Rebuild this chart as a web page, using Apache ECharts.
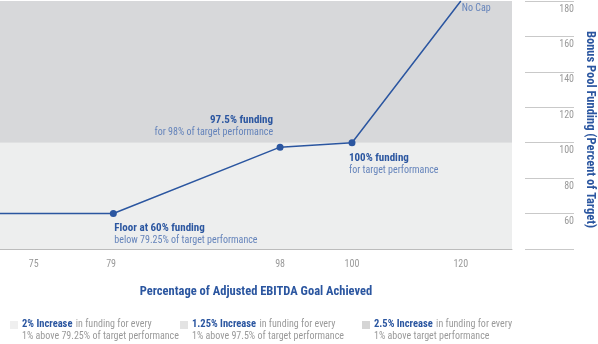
<!DOCTYPE html>
<html>
<head>
<meta charset="utf-8">
<script src="https://cdn.jsdelivr.net/npm/echarts@6/dist/echarts.min.js"></script>
<style>
  html, body { margin: 0; padding: 0; background: #ffffff; }
  #chart { width: 598px; height: 344px; }
</style>
</head>
<body>
<div id="chart"></div>
<script>
// Performance (x) ticks and funding (y) ticks
const performanceTicks = [75, 79, 98, 100, 120];
const fundingTicks = [40, 60, 80, 100, 120, 140, 160, 180];

// Funding curve: % of adjusted EBITDA goal achieved -> bonus pool funding %
const performance = [70, 79.25, 98, 100, 120];
const funding = [60, 60, 97.5, 100, 180];

// Shaded funding bands (lower band, upper band)
const bandEdges = [40, 100, 180];

// Callouts attached to the curve points
const noteHeads = ['', 'Floor at 60% funding', '97.5% funding', '100% funding', ''];
const noteBodies = ['', 'below 79.25% of target performance', 'for 98% of target performance', 'for target performance', 'No Cap'];

// Legend entries
const legendHeads = ['2% Increase', '1.25% Increase', '2.5% Increase'];
const legendTails = ['in funding for every', 'in funding for every', 'in funding for every'];
const legendSecond = ['1% above 79.25% of target performance', '1% above 97.5% of target performance', '1% above target performance'];

// ---- styling / layout ----
const FONT = "'Liberation Sans Narrow', 'Arial Narrow', 'Roboto Condensed', sans-serif";
const BLUE = '#2b56a0';
const SOFT_BLUE = '#6584bb';
const GREY_TEXT = '#9a9a9a';
const BAND_COLORS = ['#edeeee', '#d7d8da'];
const LEGEND_SWATCH = ['#efefef', '#e3e3e3', '#d5d5d5'];

// The performance axis is not drawn to scale: each labelled tick owns a slot
// along the axis (in percent of the plot width), values in between are
// interpolated between neighbouring ticks.
const tickSlots = [6.6, 21.7, 54.7, 68.75, 90.0];

function toSlot(v) {
  const t = performanceTicks, s = tickSlots, n = t.length;
  let i = 0;
  if (v <= t[0]) i = 0;
  else if (v >= t[n - 1]) i = n - 2;
  else { while (v > t[i + 1]) i++; }
  return s[i] + (v - t[i]) * (s[i + 1] - s[i]) / (t[i + 1] - t[i]);
}

const noteLayout = [
  null,
  { position: 'bottom', align: 'left', offset: [1, 0] },
  { position: 'top', align: 'right', offset: [-7, 0] },
  { position: 'bottom', align: 'left', offset: [-3, 1] },
  { position: 'right', align: 'left', offset: [-4, 7] }
];

const richStyles = (align) => ({
  b: { fontFamily: FONT, fontSize: 11, fontWeight: 'bold', color: BLUE, lineHeight: 12, align: align },
  r: { fontFamily: FONT, fontSize: 10, color: SOFT_BLUE, lineHeight: 12, align: align }
});

const curveData = performance.map((p, i) => {
  const lay = noteLayout[i];
  const endPoint = (i === 0 || i === performance.length - 1);
  const item = { value: [toSlot(p), funding[i]], symbolSize: endPoint ? 0 : 7 };
  if (lay) {
    const head = noteHeads[i] ? '{b|' + noteHeads[i] + '}\n' : '';
    item.label = {
      show: true,
      position: lay.position,
      align: lay.align,
      offset: lay.offset,
      distance: 5,
      formatter: head + '{r|' + noteBodies[i] + '}',
      rich: richStyles(lay.align)
    };
  }
  return item;
});

const chart = echarts.init(document.getElementById('chart'), null, { renderer: 'canvas' });

const legendGraphics = [];
const legendX = [10, 180, 362];
legendHeads.forEach((h, i) => {
  legendGraphics.push({
    type: 'rect', left: legendX[i], top: 321, silent: true,
    shape: { width: 8, height: 8 }, style: { fill: LEGEND_SWATCH[i] }
  });
  legendGraphics.push({
    type: 'text', left: legendX[i] + 12, top: 318, silent: true,
    style: {
      text: '{b|' + h + '} {g|' + legendTails[i] + '}\n{g|' + legendSecond[i] + '}',
      rich: {
        b: { fontFamily: FONT, fontSize: 10.5, fontWeight: 'bold', fill: BLUE, lineHeight: 12 },
        g: { fontFamily: FONT, fontSize: 10, fill: GREY_TEXT, lineHeight: 12 }
      }
    }
  });
});

chart.setOption({
  animation: false,
  backgroundColor: '#ffffff',
  textStyle: { fontFamily: FONT },
  grid: [
    { left: 0, right: 86, top: 1, bottom: 95 },
    { left: 525, right: 23, top: 1, bottom: 95 }
  ],
  xAxis: [
    {
      gridIndex: 0, type: 'value', min: 0, max: 100,
      name: 'Percentage of Adjusted EBITDA Goal Achieved',
      nameLocation: 'middle', nameGap: 36,
      nameTextStyle: { fontFamily: FONT, fontSize: 12.5, fontWeight: 'bold', color: BLUE },
      axisLine: { show: true, lineStyle: { color: '#bcbcbc', width: 1 } },
      axisTick: { show: false },
      splitLine: { show: false },
      axisLabel: {
        customValues: performanceTicks.map(toSlot),
        margin: 10,
        fontFamily: FONT, fontSize: 10, color: GREY_TEXT,
        formatter: (val) => {
          let best = 0;
          tickSlots.forEach((s, i) => { if (Math.abs(s - val) < Math.abs(tickSlots[best] - val)) best = i; });
          return String(performanceTicks[best]);
        }
      }
    },
    { gridIndex: 1, type: 'value', min: 0, max: 1, show: false }
  ],
  yAxis: [
    {
      gridIndex: 0, type: 'value',
      min: fundingTicks[0], max: fundingTicks[fundingTicks.length - 1], interval: 20,
      show: false
    },
    {
      gridIndex: 1, type: 'value', position: 'right',
      min: fundingTicks[0], max: fundingTicks[fundingTicks.length - 1], interval: 20,
      name: 'Bonus Pool Funding (Percent of Target)',
      nameLocation: 'middle', nameRotate: -90, nameGap: 10,
      nameTextStyle: { fontFamily: FONT, fontSize: 12.5, fontWeight: 'bold', color: BLUE, padding: [0, 0, 0, 9] },
      axisLine: { show: false },
      axisTick: { show: false },
      splitLine: { show: true, lineStyle: { color: '#c9c9c9', width: 1 } },
      axisLabel: {
        inside: true, margin: 0,
        verticalAlign: 'top', padding: [3, 0, 0, 0],
        fontFamily: FONT, fontSize: 10, color: GREY_TEXT,
        formatter: (v) => (v === fundingTicks[0] ? '' : String(v))
      }
    }
  ],
  series: [
    {
      type: 'line',
      xAxisIndex: 0, yAxisIndex: 0,
      data: curveData,
      symbol: 'circle',
      clip: true,
      lineStyle: { color: BLUE, width: 1.5 },
      itemStyle: { color: BLUE },
      z: 3,
      markArea: {
        silent: true,
        data: [
          [{ yAxis: bandEdges[0], itemStyle: { color: BAND_COLORS[0] } }, { yAxis: bandEdges[1] }],
          [{ yAxis: bandEdges[1], itemStyle: { color: BAND_COLORS[1] } }, { yAxis: bandEdges[2] }]
        ]
      }
    }
  ],
  graphic: legendGraphics
});
</script>
</body>
</html>
